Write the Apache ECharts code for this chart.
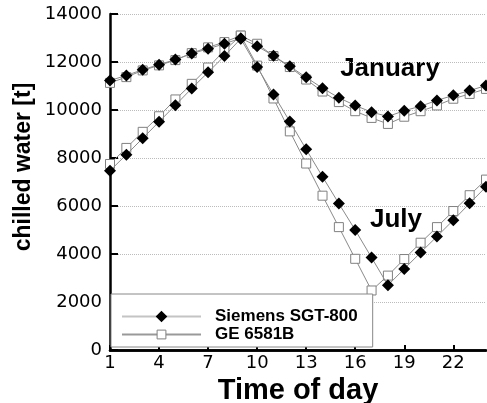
<!DOCTYPE html>
<html><head><meta charset="utf-8">
<script src="https://cdn.jsdelivr.net/npm/echarts@6/dist/echarts.min.js"></script>
<style>html,body{margin:0;padding:0;background:#fff}#c{width:487px;height:403px}</style>
</head><body><div id="c"></div>
<script>
const hours = [1,2,3,4,5,6,7,8,9,10,11,12,13,14,15,16,17,18,19,20,21,22,23,24];
const xTickLabels = [1,4,7,10,13,16,19,22];
const siemensJanuary = [11230,11440,11680,11890,12100,12350,12550,12760,12990,12660,12260,11820,11360,10910,10510,10190,9910,9730,9970,10160,10400,10610,10810,11020];
const geJanuary = [11130,11370,11650,11860,12080,12370,12610,12830,13100,12760,12250,11790,11270,10770,10330,9950,9670,9420,9720,9950,10190,10470,10670,10880];
const siemensJuly = [7470,8140,8820,9510,10200,10900,11570,12250,12970,11790,10650,9520,8360,7220,6100,5000,3850,2700,3380,4060,4730,5410,6110,6800];
const geJuly = [7750,8420,9090,9740,10440,11090,11770,12480,13100,11850,10480,9110,7770,6430,5120,3800,2480,3100,3790,4470,5120,5790,6450,7100];
const seriesNames = ['Siemens SGT-800', 'GE 6581B'];

const pairs = vals => hours.map((h, i) => [h, vals[i]]);
const chart = echarts.init(document.getElementById('c'), null, {renderer: 'canvas'});

const geStyle = {
  type: 'line', name: seriesNames[1], symbol: 'rect', symbolSize: 9,
  itemStyle: {color: '#fff', borderColor: '#808080', borderWidth: 1},
  lineStyle: {color: '#8a8a8a', width: 1}, z: 2
};
const siStyle = {
  type: 'line', name: seriesNames[0], symbol: 'diamond', symbolSize: 12,
  itemStyle: {color: '#000'},
  lineStyle: {color: '#8a8a8a', width: 1}, z: 3
};

chart.setOption({
  animation: false,
  backgroundColor: '#fff',
  grid: {left: 110, right: 1, top: 14, bottom: 53, containLabel: false, outerBoundsMode: 'none'},
  xAxis: [{
    type: 'value', min: 1, max: 24, interval: 3, position: 'bottom',
    axisLine: {show: true, onZero: false, lineStyle: {color: '#000', width: 2.5}},
    axisTick: {show: true, inside: true, length: 5, customValues: xTickLabels, lineStyle: {color: '#000', width: 2}},
    axisLabel: {customValues: xTickLabels, fontFamily: 'DejaVu Sans', fontSize: 18, color: '#000', margin: 4},
    splitLine: {show: false},
    name: 'Time of day', nameLocation: 'middle', nameGap: 18,
    nameTextStyle: {fontFamily: 'Liberation Sans', fontWeight: 'bold', fontSize: 29, color: '#000'}
  }, {
    type: 'value', min: 1, max: 24, position: 'top',
    axisLine: {show: true, lineStyle: {color: '#000', width: 2.5}},
    axisTick: {show: false}, axisLabel: {show: false}, splitLine: {show: false}
  }],
  yAxis: {
    type: 'value', min: 0, max: 14000, interval: 2000,
    axisLine: {show: true, lineStyle: {color: '#000', width: 2.5}},
    axisTick: {show: true, inside: true, length: 8, lineStyle: {color: '#000', width: 2}},
    axisLabel: {fontFamily: 'DejaVu Sans', fontSize: 18, color: '#000', margin: 8, formatter: v => String(v)},
    splitLine: {show: true, lineStyle: {type: 'dotted', color: '#bbb', width: 1}}
  },
  legend: {
    orient: 'vertical', left: 111, top: 294, padding: [14, 15, 4, 10], itemGap: 1,
    itemWidth: 79, itemHeight: 11, backgroundColor: '#fff', borderColor: '#888', borderWidth: 1,
    textStyle: {fontFamily: 'Liberation Sans', fontWeight: 'bold', fontSize: 17, color: '#000', padding: [0, 0, 0, 9]},
    data: [
      {name: seriesNames[0], lineStyle: {color: '#c4c4c4'}, itemStyle: {borderColor: '#000', borderWidth: 2}},
      {name: seriesNames[1], lineStyle: {color: '#999'}, itemStyle: {borderColor: '#808080', borderWidth: 1}}
    ]
  },
  graphic: [
    {type: 'text', x: 24, y: 167, rotation: Math.PI / 2,
     style: {text: 'chilled water [t]', font: 'bold 23px "Liberation Sans"', fill: '#000', align: 'center', verticalAlign: 'middle'}},
    {type: 'text', x: 390, y: 69,
     style: {text: 'January', font: 'bold 26px "Liberation Sans"', fill: '#000', align: 'center', verticalAlign: 'middle'}},
    {type: 'text', x: 396, y: 220,
     style: {text: 'July', font: 'bold 26px "Liberation Sans"', fill: '#000', align: 'center', verticalAlign: 'middle'}}
  ],
  series: [
    Object.assign({}, geStyle, {data: pairs(geJanuary)}),
    Object.assign({}, geStyle, {data: pairs(geJuly)}),
    Object.assign({}, siStyle, {data: pairs(siemensJanuary)}),
    Object.assign({}, siStyle, {data: pairs(siemensJuly)})
  ]
});
</script></body></html>
